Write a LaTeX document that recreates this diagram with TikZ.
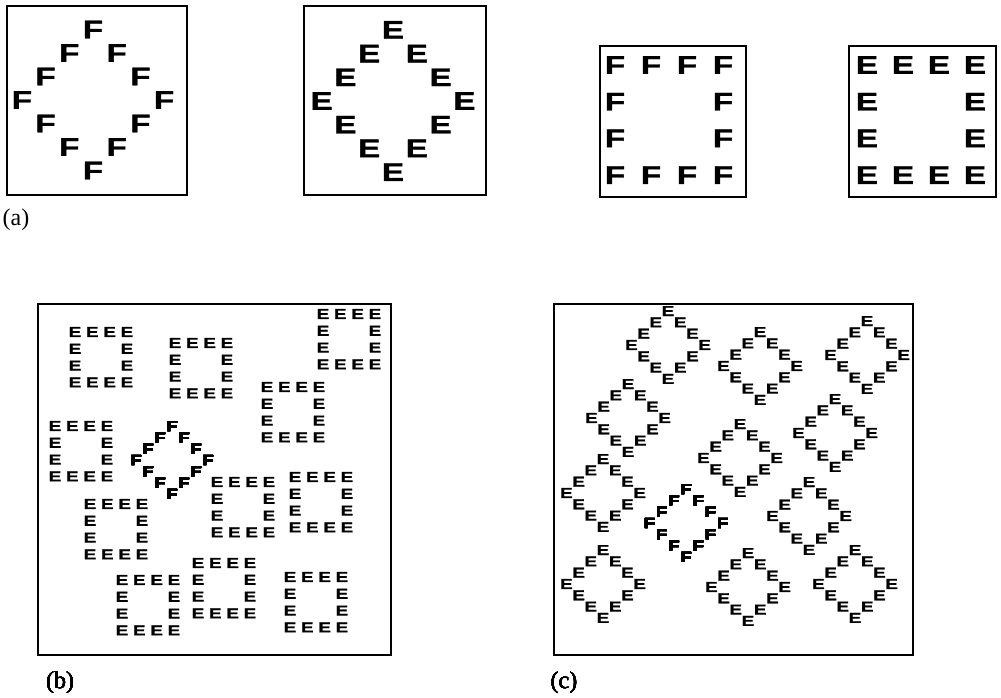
\documentclass[tikz,border=0pt]{standalone}
\usepackage{fontspec}
\setmainfont{Liberation Serif}
\newfontfamily\ltrfont[BoldFeatures={FakeBold=1.2}]{Liberation Sans}
\tikzset{
  % panel frame
  frame/.style={draw=black,line width=1.8pt},
  % big letter, row (a)
  bigltr/.style={inner sep=0pt,font=\ltrfont\bfseries\fontsize{25.5}{25.5}\selectfont},
  % small letter, panels (b) and (c)
  smallltr/.style={inner sep=0pt,font=\ltrfont\bfseries\fontsize{14.5}{14.5}\selectfont},
  % panel tag
  tag/.style={inner sep=0pt,font=\fontsize{24}{24}\selectfont},
}
% letters are a bit wider than the font gives
\newcommand{\wideltr}[1]{\scalebox{1.3}[1]{#1}}
% 12 letters on a diamond: name, style, letter, cx, cy, dx, dy
\newcommand{\diamondring}[7]{%
  \foreach \i/\j [count=\k] in {0/-3,1/-2,2/-1,3/0,2/1,1/2,0/3,-1/2,-2/1,-3/0,-2/-1,-1/-2}
    \node[#2] (#1-\k) at ({#4+\i*#6},{#5+\j*#7}) {\wideltr{#3}};}
% 12 letters on a square: name, style, letter, x0, y0, dx, dy
\newcommand{\squarering}[7]{%
  \foreach \i/\j [count=\k] in {0/0,1/0,2/0,3/0,3/1,3/2,3/3,2/3,1/3,0/3,0/2,0/1}
    \node[#2] (#1-\k) at ({#4+\i*#6},{#5+\j*#7}) {\wideltr{#3}};}

\begin{document}
\begin{tikzpicture}[x=1pt,y=-1pt]
  \useasboundingbox (0,0) rectangle (1001,697);

  % row (a)
  \draw[frame] (7,6) rectangle (187,195);
  \draw[frame] (304,6) rectangle (486,195);
  \draw[frame] (600,46) rectangle (746,197);
  \draw[frame] (849,46) rectangle (996,197);
  \diamondring{aF}{bigltr}{F}{93}{100}{23.7}{23.5}
  \diamondring{aE}{bigltr}{E}{393}{101}{23.8}{23.7}
  \squarering{sF}{bigltr}{F}{615}{65}{36}{36.7}
  \squarering{sE}{bigltr}{E}{867}{65}{36}{36.7}
  \node[tag] (taga) at (16,220) {(a)};

  % panel (b)
  \draw[frame] (38,304) rectangle (391,655);
  \foreach \x/\y [count=\n] in {75/332,175/343,323/314,267/387,55/426,217/482,
      295/477,90/504,122/580,198/563,290/577}
    \squarering{b\n}{smallltr}{E}{\x}{\y}{17.3}{16.8}
  \diamondring{bF}{smallltr}{F}{172}{460}{12}{11.3}
  \node[tag] (tagb) at (60,683) {(b)};

  % panel (c)
  \draw[frame] (554,304) rectangle (913,655);
  \foreach \x/\y [count=\n] in {668/345,760/366,867/355,628/418,740/458,835/433,
      603/493,809/516,603/584,748/587,855/584}
    \diamondring{c\n}{smallltr}{E}{\x}{\y}{12.2}{11.3}
  \diamondring{cF}{smallltr}{F}{686}{523}{12.2}{11.3}
  \node[tag] (tagc) at (564,683) {(c)};
\end{tikzpicture}
\end{document}
